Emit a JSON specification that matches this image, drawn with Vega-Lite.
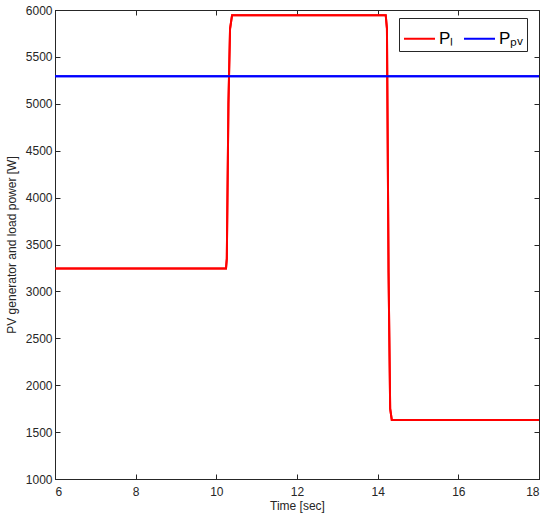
{
  "$schema": "https://vega.github.io/schema/vega-lite/v6.json",
  "width": 484,
  "height": 469,
  "autosize": {"type": "none"},
  "padding": {"left": 55, "top": 10, "right": 11, "bottom": 43},
  "background": "white",
  "config": {
    "view": {"stroke": "#262626", "strokeWidth": 1},
    "font": "Liberation Sans",
    "axis": {
      "grid": false,
      "labelColor": "#262626",
      "titleColor": "#262626",
      "labelFont": "Liberation Sans",
      "titleFont": "Liberation Sans",
      "labelFontSize": 12,
      "titleFontSize": 12,
      "titleFontWeight": "normal"
    }
  },
  "data": {
    "values": [
      {"t": 6, "p": 3245, "s": "Pₗ"},
      {"t": 10.24, "p": 3245, "s": "Pₗ"},
      {"t": 10.26, "p": 3350, "s": "Pₗ"},
      {"t": 10.3, "p": 5000, "s": "Pₗ"},
      {"t": 10.34, "p": 5800, "s": "Pₗ"},
      {"t": 10.39, "p": 5945, "s": "Pₗ"},
      {"t": 14.2, "p": 5945, "s": "Pₗ"},
      {"t": 14.23, "p": 5800, "s": "Pₗ"},
      {"t": 14.27, "p": 3200, "s": "Pₗ"},
      {"t": 14.31, "p": 1750, "s": "Pₗ"},
      {"t": 14.35, "p": 1630, "s": "Pₗ"},
      {"t": 18, "p": 1630, "s": "Pₗ"},
      {"t": 6, "p": 5295, "s": "Pₚᵥ"},
      {"t": 18, "p": 5295, "s": "Pₚᵥ"}
    ]
  },
  "layer": [
    {
      "mark": {"type": "line", "strokeWidth": 2, "clip": true},
      "encoding": {
        "x": {"field": "t", "type": "quantitative", "scale": {"domain": [6, 18], "nice": false},
              "axis": {"title": "Time [sec]", "values": [6, 8, 10, 12, 14, 16, 18], "format": "d",
                       "ticks": true, "tickSize": -5, "tickWidth": 1, "tickColor": "#262626", "domainColor": "#262626",
                       "labelPadding": 12, "titlePadding": 3}},
        "y": {"field": "p", "type": "quantitative", "scale": {"domain": [1000, 6000], "nice": false, "zero": false},
              "axis": {"title": "PV generator and load power [W]", "values": [1000, 1500, 2000, 2500, 3000, 3500, 4000, 4500, 5000, 5500, 6000], "format": "d",
                       "ticks": true, "tickSize": -5, "tickWidth": 1, "tickColor": "#262626", "domainColor": "#262626",
                       "labelPadding": 8, "titlePadding": 7}},
        "color": {"field": "s", "type": "nominal",
                  "scale": {"domain": ["Pₗ", "Pₚᵥ"], "range": ["#ff0000", "#0000ff"]},
                  "legend": {"title": null, "orient": "none", "legendX": 344, "legendY": 8, "direction": "horizontal",
                             "symbolType": "stroke", "symbolSize": 961, "symbolStrokeWidth": 2,
                             "labelFontSize": 17, "labelColor": "#000000", "labelFont": "Liberation Sans",
                             "strokeColor": "#262626", "fillColor": "white", "padding": 4, "columnPadding": 6, "labelOffset": 3}},
        "detail": {"field": "s"}
      }
    },
    {
      "mark": {"type": "line", "strokeWidth": 2, "clip": true},
      "encoding": {
        "x": {"field": "t", "type": "quantitative",
              "axis": {"orient": "top", "labels": false, "title": null, "values": [6, 8, 10, 12, 14, 16, 18],
                       "ticks": true, "tickSize": -5, "tickWidth": 1, "tickColor": "#262626", "domainColor": "#262626"}},
        "y": {"field": "p", "type": "quantitative",
              "axis": {"orient": "right", "labels": false, "title": null, "values": [1000, 1500, 2000, 2500, 3000, 3500, 4000, 4500, 5000, 5500, 6000],
                       "ticks": true, "tickSize": -5, "tickWidth": 1, "tickColor": "#262626", "domainColor": "#262626"}},
        "color": {"field": "s", "type": "nominal", "legend": null}
      }
    }
  ],
  "resolve": {"axis": {"x": "independent", "y": "independent"}}
}
